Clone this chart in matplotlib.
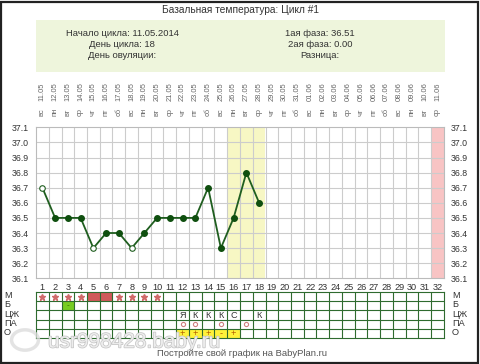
import numpy as np
import matplotlib
matplotlib.use('Agg')
from matplotlib import pyplot as plt
from matplotlib import transforms
from matplotlib.patches import Rectangle
import matplotlib.patheffects as pe

plt.rcParams['font.family'] = ['Liberation Sans', 'DejaVu Sans']

# chart data
days = [1, 2, 3, 4, 5, 6, 7, 8, 9, 10, 11, 12, 13, 14, 15, 16, 17, 18]
temps = [36.7, 36.5, 36.5, 36.5, 36.3, 36.4, 36.4, 36.3, 36.4, 36.5,
         36.5, 36.5, 36.5, 36.7, 36.3, 36.5, 36.8, 36.6]
open_days = [1, 5, 8]

dates = ['11.05', '12.05', '13.05', '14.05', '15.05', '16.05', '17.05', '18.05',
         '19.05', '20.05', '21.05', '22.05', '23.05', '24.05', '25.05', '26.05',
         '27.05', '28.05', '29.05', '30.05', '31.05', '01.06', '02.06', '03.06',
         '04.06', '05.06', '06.06', '07.06', '08.06', '09.06', '10.06', '11.06']
weekdays = ['вс', 'пн', 'вт', 'ср', 'чт', 'пт', 'сб'] * 4 + ['вс', 'пн', 'вт', 'ср']
temp_ticks = [36.1, 36.2, 36.3, 36.4, 36.5, 36.6, 36.7, 36.8, 36.9, 37.0, 37.1]

highlight_days = [16, 18]
next_cycle_day = 32

row_names = ['М', 'Б', 'ЦЖ', 'ПА', 'О']
m_star_days = [1, 2, 3, 4, 7, 8, 9, 10]
m_block_days = [5, 6]
b_days = [3]
b_marks = ['-']
cm_days = [12, 13, 14, 15, 16, 18]
cm_marks = ['Я', 'К', 'К', 'К', 'С', 'К']
pa_days = [12, 13, 15, 17]
o_days = [12, 13, 14, 15, 16]
o_marks = ['+', '+', '+', '-', '+']

n_days = len(dates)
W, H = 480, 364
txt = '#333333'

fig = plt.figure(figsize=(4.8, 3.64), dpi=100)
fig.patch.set_facecolor('white')


def fx(px):
    return px / W


def fy(py):
    return 1 - py / H


# frame + header
fig.add_artist(Rectangle((0.002, 0.003), 0.994, 0.992, transform=fig.transFigure,
                         fill=False, edgecolor='#222222', lw=1.6))
fig.text(fx(240), fy(10), 'Базальная температура: Цикл #1', ha='center', va='center',
         fontsize=7.3, color=txt)
fig.add_artist(Rectangle((fx(36), fy(72)), fx(409), 52 / H, transform=fig.transFigure,
                         facecolor='#EEF5DC', edgecolor='none'))
left_info = ['Начало цикла: 11.05.2014', 'День цикла: 18', 'День овуляции:']
right_info = ['1ая фаза: 36.51', '2ая фаза: 0.00', 'Разница:']
for i, (a, b) in enumerate(zip(left_info, right_info)):
    fig.text(fx(122), fy(33 + 11.5 * i), a, ha='center', va='center', fontsize=6.8, color=txt)
    fig.text(fx(320), fy(33 + 11.5 * i), b, ha='center', va='center', fontsize=6.8, color=txt)

# temperature chart
ax = fig.add_axes([fx(36), fy(278.3), fx(408), (278.3 - 127.3) / H])
ax.set_xlim(0.5, n_days + 0.5)
ax.set_ylim(36.1, 37.1)
ax.axvspan(highlight_days[0] - 0.5, highlight_days[1] + 0.5, color='#F7F7C4', lw=0, zorder=0)
ax.axvspan(next_cycle_day - 0.5, next_cycle_day + 0.5, color='#F8C4C4', lw=0, zorder=0)
for k in range(1, n_days):
    ax.axvline(k + 0.5, color='#cccccc', lw=0.8, zorder=1)
for t in temp_ticks[1:-1]:
    ax.axhline(t, color='#cccccc', lw=0.8, zorder=1)
for s in ax.spines.values():
    s.set_color('#bbbbbb')
    s.set_linewidth(0.8)

ax.plot(days, temps, color='#1f5e1f', lw=1.3, zorder=3)
filled = [(d, t) for d, t in zip(days, temps) if d not in open_days]
hollow = [(d, t) for d, t in zip(days, temps) if d in open_days]
ax.plot([p[0] for p in filled], [p[1] for p in filled], 'o', ms=4, color='#0f4f0f', zorder=4)
ax.plot([p[0] for p in hollow], [p[1] for p in hollow], 'o', ms=4, mfc='white',
        mec='#1f5e1f', mew=0.8, zorder=4)

ax.set_yticks(temp_ticks)
ax.set_yticklabels([f'{t:.1f}' for t in temp_ticks])
ax.tick_params(axis='y', length=0, pad=5, labelsize=6.3, labelcolor=txt,
               labelleft=True, labelright=True)
ax.set_xticks(range(1, n_days + 1))
ax.set_xticklabels([str(d) for d in range(1, n_days + 1)])
ax.tick_params(axis='x', length=0, pad=3.5, labelsize=6.6, labelcolor=txt)

for i in range(n_days):
    ax.annotate(dates[i], xy=(i + 1, 1), xycoords=('data', 'axes fraction'),
                xytext=(0, 19), textcoords='offset points', rotation=90,
                ha='center', va='bottom', fontsize=5.4, color='#666666')
    ax.annotate(weekdays[i], xy=(i + 1, 1), xycoords=('data', 'axes fraction'),
                xytext=(0, 8), textcoords='offset points', rotation=90,
                ha='center', va='bottom', fontsize=5.4, color='#666666')

# symptoms grid
ax2 = fig.add_axes([fx(36), fy(338), fx(408), 46 / H])
ax2.set_xlim(0.5, n_days + 0.5)
ax2.set_ylim(len(row_names), 0)
ax2.bar(m_block_days, 1, bottom=0, width=1, color='#D05A5A', zorder=1)
ax2.bar(b_days, 1, bottom=1, width=1, color='#77CC22', zorder=1)
ax2.bar(o_days, 1, bottom=4, width=1, color='#FFF23A', zorder=1)
ax2.plot(m_star_days, [0.5] * len(m_star_days), '*', ms=4.5, color='#D06A6A', zorder=3)
ax2.plot(pa_days, [3.5] * len(pa_days), 'o', ms=3, mfc='none', mec='#D08080', mew=0.8, zorder=3)
for d, m in zip(b_days, b_marks):
    ax2.text(d, 1.5, m, ha='center', va='center', fontsize=6, color='#336600', zorder=3)
for d, m in zip(cm_days, cm_marks):
    ax2.text(d, 2.55, m, ha='center', va='center', fontsize=6.6, color=txt, zorder=3)
for d, m in zip(o_days, o_marks):
    ax2.text(d, 4.5, m, ha='center', va='center', fontsize=6.6, color='#B05A00', zorder=3)
for k in range(1, n_days):
    ax2.axvline(k + 0.5, color='#2F6B2F', lw=0.8, zorder=2)
for r in range(1, len(row_names)):
    ax2.axhline(r, color='#2F6B2F', lw=0.8, zorder=2)
for s in ax2.spines.values():
    s.set_color('#2F6B2F')
    s.set_linewidth(0.8)
ax2.set_xticks([])
ax2.set_yticks([])

row_tf = transforms.blended_transform_factory(fig.transFigure, ax2.transData)
for r, name in enumerate(row_names):
    fig.text(fx(4), r + 0.4, name, transform=row_tf, ha='left', va='center',
             fontsize=6.6, color=txt)
    fig.text(fx(452), r + 0.4, name, transform=row_tf, ha='left', va='center',
             fontsize=6.6, color=txt)

# watermark + footer
fig.add_artist(plt.Circle((fx(25), fy(340)), 0.028, transform=fig.transFigure,
                          fill=False, edgecolor='#dddddd', lw=2.5, alpha=0.8))
fig.text(fx(48), fy(342), 'usr998428.baby.ru', ha='left', va='center', fontsize=15,
         color='#f0f0f0', alpha=0.9,
         path_effects=[pe.withStroke(linewidth=1.0, foreground='#bdbdbd')])
fig.text(fx(242), fy(353), 'Постройте свой график на BabyPlan.ru', ha='center', va='center',
         fontsize=6.8, color='#555555')

plt.savefig('out.png', dpi=100)
